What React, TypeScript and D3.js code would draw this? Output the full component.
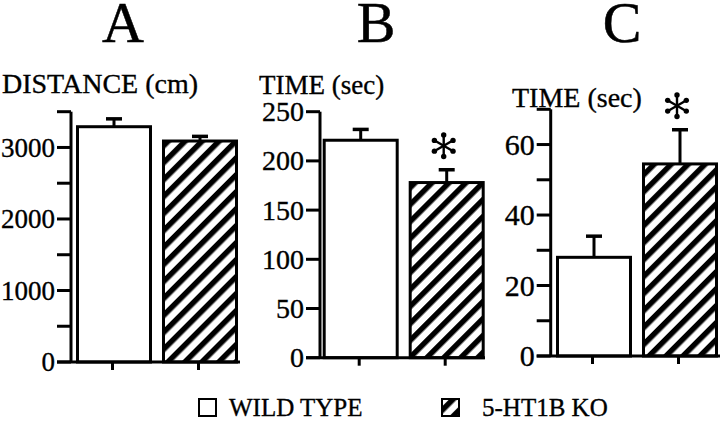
import React from "react";
import * as d3 from "d3";

// ---------- data ----------
const groups = ["WILD TYPE", "5-HT1B KO"];
const panelLetters = ["A", "B", "C"];
const axisTitles = ["DISTANCE (cm)", "TIME (sec)", "TIME (sec)"];

const distanceMeans = [3290, 3090];
const distanceSem = [110, 65];
const distanceSig = [false, false];
const distanceTicks = [0, 1000, 2000, 3000];
const distanceMinor = [500, 1500, 2500, 3500];

const timeBMeans = [221, 178];
const timeBSem = [11, 13];
const timeBSig = [false, true];
const timeBTicks = [0, 50, 100, 150, 200, 250];
const timeBMinor: number[] = [];

const timeCMeans = [28, 54.5];
const timeCSem = [6, 9.7];
const timeCSig = [false, true];
const timeCTicks = [0, 20, 40, 60];
const timeCMinor = [10, 30, 50, 70];

const yMax = [3500, 250, 70];

// ---------- layout ----------
const FONT = '"Liberation Serif", "Times New Roman", serif';

type PanelLayout = {
  axisX: number;
  baseY: number;
  topY: number;
  barStart: number;
  xAxisEnd: number;
  letterX: number;
  titleX: number;
  titleY: number;
  titleFont: number;
  tickFont: number;
};

const layouts: PanelLayout[] = [
  { axisX: 71, baseY: 362, topY: 111.7, barStart: 76, xAxisEnd: 240, letterX: 123, titleX: 2, titleY: 93, titleFont: 28, tickFont: 27 },
  { axisX: 320, baseY: 357.7, topY: 111.7, barStart: 322.7, xAxisEnd: 485, letterX: 376, titleX: 259, titleY: 94, titleFont: 27, tickFont: 28 },
  { axisX: 550.7, baseY: 356, topY: 109.3, barStart: 556, xAxisEnd: 720, letterX: 622, titleX: 512, titleY: 107, titleFont: 28, tickFont: 30 },
];

const panelData = [
  { means: distanceMeans, sem: distanceSem, sig: distanceSig, ticks: distanceTicks, minor: distanceMinor },
  { means: timeBMeans, sem: timeBSem, sig: timeBSig, ticks: timeBTicks, minor: timeBMinor },
  { means: timeCMeans, sem: timeCSem, sig: timeCSig, ticks: timeCTicks, minor: timeCMinor },
];

const BAR_W = 76;
const BAR_GAP = 10;
const TICK = 14;
const SW = 3;
const TXT_STROKE = 0.35;

function Asterisk({ cx, cy, r }: { cx: number; cy: number; r: number }) {
  const angles = [90, 30, 150];
  return (
    <g>
      {angles.map((a) => {
        const rad = (a * Math.PI) / 180;
        const dx = Math.cos(rad) * r;
        const dy = Math.sin(rad) * r;
        return (
          <g key={a}>
            <line x1={cx - dx} y1={cy - dy} x2={cx + dx} y2={cy + dy} stroke="#000" strokeWidth={2.4} />
            <circle cx={cx - dx * 0.86} cy={cy - dy * 0.86} r={2.7} fill="#000" />
            <circle cx={cx + dx * 0.86} cy={cy + dy * 0.86} r={2.7} fill="#000" />
          </g>
        );
      })}
    </g>
  );
}

function Panel({ idx }: { idx: number }) {
  const L = layouts[idx];
  const D = panelData[idx];
  const y = d3.scaleLinear().domain([0, yMax[idx]]).range([L.baseY, L.topY]);
  const x = d3
    .scaleBand<string>()
    .domain(groups)
    .range([L.barStart, L.barStart + 2 * BAR_W + BAR_GAP])
    .paddingInner(BAR_GAP / (BAR_W + BAR_GAP))
    .paddingOuter(0);
  const bw = x.bandwidth();

  return (
    <g>
      <text x={L.letterX} y={42} textAnchor="middle" fontFamily={FONT} fontSize={58} stroke="#000" strokeWidth={0.5}>
        {panelLetters[idx]}
      </text>
      <text x={L.titleX} y={L.titleY} fontFamily={FONT} fontSize={L.titleFont} stroke="#000" strokeWidth={TXT_STROKE}>
        {axisTitles[idx]}
      </text>

      {groups.map((g, i) => {
        const x0 = x(g)!;
        const top = y(D.means[i]);
        const errTop = y(D.means[i] + D.sem[i]);
        const cx = x0 + bw / 2;
        return (
          <g key={g}>
            <line x1={cx} x2={cx} y1={top} y2={errTop} stroke="#000" strokeWidth={SW} />
            <line x1={cx - 8} x2={cx + 8} y1={errTop} y2={errTop} stroke="#000" strokeWidth={SW + 0.5} />
            <rect
              x={x0 + SW / 2}
              y={top}
              width={bw - SW}
              height={L.baseY - top}
              fill={i === 0 ? "#fff" : "url(#hatch)"}
              stroke="#000"
              strokeWidth={SW}
            />
            {D.sig[i] && <Asterisk cx={cx - 3} cy={errTop - 24} r={12.5} />}
          </g>
        );
      })}

      <line x1={L.axisX} x2={L.axisX} y1={L.topY} y2={L.baseY} stroke="#000" strokeWidth={SW} />
      {D.ticks.concat(D.minor).map((t) => (
        <line key={"t" + t} x1={L.axisX - TICK} x2={L.axisX} y1={y(t)} y2={y(t)} stroke="#000" strokeWidth={SW} />
      ))}
      {D.ticks.map((t) => (
        <text
          key={"l" + t}
          x={L.axisX - TICK - 2}
          y={y(t)}
          dy="0.34em"
          textAnchor="end"
          fontFamily={FONT}
          fontSize={L.tickFont}
          stroke="#000"
          strokeWidth={TXT_STROKE}
        >
          {t}
        </text>
      ))}

      <line x1={L.axisX - TICK} x2={L.xAxisEnd} y1={L.baseY} y2={L.baseY} stroke="#000" strokeWidth={SW} />
      {groups.map((g) => {
        const cx = x(g)! + bw / 2 - 1.5;
        return <line key={"x" + g} x1={cx} x2={cx} y1={L.baseY} y2={L.baseY + 8} stroke="#000" strokeWidth={SW} />;
      })}
    </g>
  );
}

export default function App() {
  return (
    <svg width={720} height={424} style={{ display: "block", position: "absolute", left: 0, top: 0, background: "#fff" }}>
      <defs>
        <pattern id="hatch" patternUnits="userSpaceOnUse" width={12} height={12} patternTransform="rotate(45)">
          <rect x={0} y={0} width={12} height={12} fill="#fff" />
          <rect x={0} y={0} width={5.5} height={12} fill="#000" />
        </pattern>
      </defs>
      <rect x={0} y={0} width={720} height={424} fill="#fff" />
      {panelLetters.map((_, i) => (
        <Panel key={i} idx={i} />
      ))}
      <g fontFamily={FONT} fontSize={25}>
        <rect x={199} y={399} width={17} height={17} fill="#fff" stroke="#000" strokeWidth={2} />
        <text x={229} y={416} stroke="#000" strokeWidth={TXT_STROKE}>{groups[0]}</text>
        <rect x={442} y={399} width={17} height={17} fill="url(#hatch)" stroke="#000" strokeWidth={2} />
        <text x={482} y={416} stroke="#000" strokeWidth={TXT_STROKE}>{groups[1]}</text>
      </g>
    </svg>
  );
}
